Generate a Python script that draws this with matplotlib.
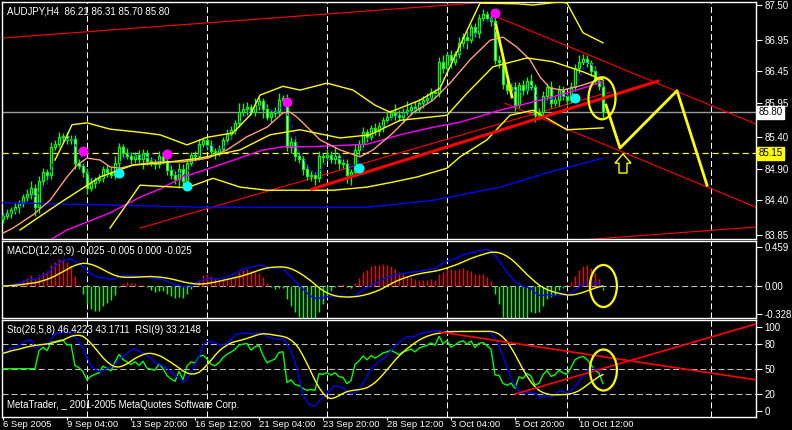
import numpy as np
import pandas as pd
import matplotlib
matplotlib.use('Agg')
import matplotlib.pyplot as plt
from matplotlib.patches import Ellipse, Polygon

plt.rcParams['font.family'] = ['Liberation Sans', 'DejaVu Sans']
plt.rcParams['font.size'] = 7

# ---- AUDJPY H4 candles (bar 0 = 6 Sep 2005 12:00) ----
first_open = 84.10
closes = [
    84.15, 84.20, 84.25, 84.30, 84.35, 84.45, 84.50, 84.60, 84.30, 84.70,
    84.85, 84.80, 85.25, 85.30, 85.40, 85.42, 85.35, 85.38, 85.00, 84.95,
    84.85, 84.60, 84.68, 84.72, 84.75, 84.90, 84.85, 84.80, 85.00, 85.25,
    85.15, 85.10, 85.05, 85.12, 85.05, 85.15, 85.02, 85.00, 84.98, 85.10,
    85.02, 84.88, 84.80, 84.74, 84.90, 84.70, 85.00, 85.12, 85.10, 85.30,
    85.35, 85.28, 85.18, 85.15, 85.22, 85.35, 85.45, 85.52, 85.62, 85.80,
    85.85, 85.88, 85.80, 85.92, 85.98, 85.85, 85.73, 85.78, 85.82, 86.00,
    86.02, 85.25, 85.32, 85.10, 85.05, 84.90, 84.78, 84.80, 84.75, 85.10,
    85.08, 85.12, 85.05, 85.10, 85.00, 84.98, 84.80, 84.85, 85.20, 85.30,
    85.48, 85.40, 85.55, 85.50, 85.58, 85.68, 85.72, 85.78, 85.75, 85.72,
    85.80, 85.83, 85.88, 85.85, 85.95, 86.00, 86.03, 86.12, 86.10, 86.60,
    86.50, 86.70, 86.60, 86.72, 86.90, 87.00, 86.95, 87.15, 87.05, 87.30,
    87.35, 87.30, 87.25, 86.62, 86.60, 86.25, 86.15, 86.20, 85.92, 86.23,
    86.15, 86.30, 86.20, 85.75, 85.80, 86.05, 86.20, 85.95, 86.00, 86.15,
    86.05, 86.00, 86.20, 86.50, 86.60, 86.65, 86.58, 86.45, 86.30, 86.21,
    85.80,
]
# wick lengths above / below the body, in hundredths of a yen
wick_up = [
    5, 6, 5, 8, 6, 5, 8, 10, 6, 8,
    6, 5, 8, 6, 8, 5, 6, 5, 5, 6,
    5, 6, 8, 5, 6, 5, 6, 8, 10, 6,
    5, 8, 6, 5, 8, 6, 5, 6, 5, 8,
    6, 5, 8, 6, 10, 8, 6, 5, 6, 8,
    6, 5, 8, 5, 6, 5, 8, 6, 5, 15,
    10, 8, 5, 10, 6, 5, 8, 5, 6, 10,
    5, 6, 8, 10, 6, 5, 8, 6, 5, 8,
    5, 10, 6, 15, 5, 6, 8, 5, 10, 6,
    8, 6, 5, 8, 6, 5, 10, 6, 15, 8,
    6, 15, 5, 10, 6, 5, 8, 6, 5, 8,
    10, 6, 8, 5, 10, 6, 8, 5, 6, 6,
    8, 6, 5, 6, 8, 5, 10, 6, 8, 5,
    8, 6, 10, 5, 6, 8, 6, 10, 5, 8,
    6, 5, 8, 6, 10, 8, 6, 5, 8, 6,
    10,
]
wick_dn = [
    6, 5, 8, 6, 10, 5, 6, 8, 15, 10,
    5, 8, 6, 5, 6, 8, 5, 6, 10, 6,
    8, 10, 6, 8, 5, 6, 8, 5, 6, 8,
    6, 5, 8, 6, 5, 15, 6, 5, 8, 6,
    5, 8, 6, 8, 15, 10, 6, 5, 8, 6,
    5, 8, 6, 10, 5, 6, 5, 8, 6, 5,
    6, 10, 5, 6, 8, 15, 6, 8, 5, 6,
    8, 6, 10, 8, 5, 10, 6, 8, 10, 6,
    8, 5, 6, 8, 10, 6, 12, 15, 6, 8,
    6, 8, 5, 6, 8, 10, 6, 5, 8, 6,
    10, 5, 8, 6, 5, 8, 6, 5, 8, 6,
    8, 6, 10, 5, 6, 8, 15, 6, 5, 8,
    6, 5, 8, 6, 10, 8, 6, 5, 10, 6,
    8, 6, 5, 10, 8, 6, 5, 8, 6, 10,
    6, 8, 5, 6, 8, 5, 6, 8, 5, 6,
    10,
]

# ---- indicator lines (bar index, price) ----
salmon_x = [0, 2.5, 7.5, 11.75, 16, 18.5, 21, 24.25, 26.75, 29.25, 32.5, 36, 39.25, 45, 51.25, 56, 61, 66,
            70, 71.75, 73.5, 76.75, 79.25, 84.25, 89.25, 92.5, 97.5, 102.5, 107.5, 111.75, 116.75, 121.75,
            125, 128.5, 131.75, 134.25, 136.75, 140, 145, 150]
salmon_y = [83.88, 83.96, 84.17, 84.40, 84.77, 84.96, 85.07, 85.04, 84.93, 84.91, 84.96, 84.99, 85.01, 85.01,
            85.07, 85.20, 85.41, 85.56, 85.79, 85.80, 85.72, 85.52, 85.36, 85.20, 85.09, 85.20, 85.47, 85.79,
            85.99, 86.26, 86.63, 86.94, 86.99, 86.83, 86.63, 86.36, 86.18, 86.15, 86.23, 86.34]
magenta_x = [11.75, 16, 26.75, 34.25, 39.25, 45, 51.75, 60, 65, 70, 76.75, 91, 99.25, 107.5, 114.25,
             124.25, 134.25, 141.75, 150]
magenta_y = [83.77, 83.93, 84.20, 84.45, 84.58, 84.77, 84.91, 85.09, 85.20, 85.25, 85.25, 85.29, 85.44,
             85.56, 85.64, 85.83, 85.99, 86.12, 86.28]
blue_x = [0, 24.25, 49.25, 74.25, 91, 107.5, 124.25, 136.75, 150]
blue_y = [84.36, 84.33, 84.29, 84.29, 84.29, 84.40, 84.61, 84.85, 85.07]
band_up_x = [13, 15.5, 17.25, 21, 26.75, 34.25, 39.25, 46, 51, 57.5, 61.75, 64.25, 70, 74.25, 81, 87.5,
             93, 96.75, 104.25, 109.25, 114.25, 119.25, 128.5, 132.5, 139.25, 141, 145, 150]
band_up_y = [85.04, 85.36, 85.60, 85.63, 85.53, 85.48, 85.44, 85.28, 85.40, 85.47, 85.75, 86.07, 86.21,
             86.15, 86.26, 86.15, 85.91, 85.80, 85.99, 86.18, 86.86, 87.53, 87.52, 87.50, 87.55, 87.53,
             87.06, 86.90]
band_mid_x = [4.25, 14.25, 24.25, 32.5, 39.25, 49.25, 59.25, 66.75, 74.25, 84.25, 91.75, 99.25, 111,
              116, 122.5, 131, 137.5, 145, 150]
band_mid_y = [83.93, 84.36, 84.77, 84.96, 84.99, 85.07, 85.20, 85.44, 85.52, 85.39, 85.44, 85.67, 85.75,
              86.10, 86.52, 86.66, 86.60, 86.44, 86.31]
band_lo_x = [26.75, 34.25, 46, 52.5, 59.25, 66, 74.25, 82.5, 91, 97.5, 103.5, 111, 114.25, 121, 126.75,
             132.5, 141, 150]
band_lo_y = [83.96, 84.64, 84.60, 84.75, 84.61, 84.56, 84.56, 84.56, 84.61, 84.69, 84.77, 84.91, 85.09,
             85.36, 85.75, 85.83, 85.52, 85.55]

# fractal dots
magenta_dots = [(20, 85.18), (41, 85.13), (71, 85.96), (123, 87.37)]
cyan_dots = [(29, 84.83), (46, 84.63), (89, 84.91), (143, 86.02)]

# drawn objects (bar, value) pairs
red_thin_main = [[(-0.25, 86.976), (188.25, 87.862)],
                 [(-0.25, 83.09), (188.25, 83.976)],
                 [(34.25, 83.96), (151.75, 86.12)],
                 [(122.75, 87.33), (188.25, 85.61)],
                 [(125.5, 85.94), (188.25, 84.29)]]
red_thick_main = [(77.25, 84.579), (163.75, 86.293)]
yellow_drop = [(123.25, 87.18), (127.25, 86.04)]
yellow_projection = [(150.75, 85.91), (154.25, 85.23), (168.5, 86.14), (176, 84.64)]
red_stoch = [[(109.25, 94.0), (188.5, 36.9)], [(128, 20.2), (188.25, 103.6)]]

grid_bars = [21, 51, 81, 111, 141, 177]
date_bars = [0, 16, 32, 48, 64, 80, 96, 112, 128, 144]
date_labels = ['6 Sep 2005', '9 Sep 04:00', '13 Sep 20:00', '16 Sep 12:00', '21 Sep 04:00',
               '23 Sep 20:00', '28 Sep 12:00', '3 Oct 04:00', '5 Oct 20:00', '10 Oct 12:00']

# ---- derived series ----
c = pd.Series(closes)
o = pd.Series([first_open] + closes[:-1])
h = np.maximum(o, c) + np.array(wick_up) / 100
l = np.minimum(o, c) - np.array(wick_dn) / 100
x = np.arange(len(c))

ema12 = c.ewm(span=12, adjust=False).mean()
ema26 = c.ewm(span=26, adjust=False).mean()
macd = ema12 - ema26
signal = macd.rolling(9, min_periods=1).mean()
hist = (macd - signal) * 2.5   # histogram drawn at 2.5x, as the indicator shows it

ll = l.rolling(26, min_periods=1).min()
hh = h.rolling(26, min_periods=1).max()
k = 100 * (c - ll).rolling(5, min_periods=1).sum() / (hh - ll).rolling(5, min_periods=1).sum()
d = k.rolling(8, min_periods=1).mean()
delta = c.diff().fillna(0)
gain = delta.clip(lower=0).ewm(alpha=1 / 9, adjust=False).mean()
loss = (-delta.clip(upper=0)).ewm(alpha=1 / 9, adjust=False).mean()
rsi = (100 - 100 / (1 + gain / loss.replace(0, np.nan))).bfill()
fast_ma = c.rolling(4, min_periods=1).mean()

# ---- figure ----
W, H = 792, 430
fig = plt.figure(figsize=(W / 100, H / 100), dpi=100, facecolor='black')


def panel(top, bottom):
    a = fig.add_axes([2 / W, 1 - bottom / H, 754 / W, (bottom - top) / H], facecolor='black')
    for s in a.spines.values():
        s.set_color('white')
        s.set_linewidth(1)
    a.set_xlim(-0.25, 188.25)
    a.yaxis.tick_right()
    a.tick_params(axis='y', colors='white', length=4, width=0.8, pad=2, labelsize=7)
    a.tick_params(axis='x', bottom=False, labelbottom=False)
    for gb in grid_bars:
        a.axvline(gb, color='white', lw=0.75, ls=(0, (5.8, 2.9)), zorder=1)
    return a


ax1 = panel(2, 239)
ax2 = panel(241, 318)
ax3 = panel(320, 417)

# main price panel
ax1.set_ylim(83.786, 87.548)
ax1.set_yticks([87.50, 86.95, 86.45, 85.95, 85.40, 84.90, 84.40, 83.85])
ax1.set_yticklabels(['%.2f' % v for v in ax1.get_yticks()])
ax1.axhline(85.80, color='#9a9a9a', lw=1, zorder=1)
ax1.axhline(85.15, color='#ffff00', lw=0.9, ls=(0, (5, 3)), zorder=1)

for line in red_thin_main:
    ax1.plot([p[0] for p in line], [p[1] for p in line], color='red', lw=0.8, zorder=2)

ax1.vlines(x, l, h, color='#00ff00', lw=0.9, zorder=3)
fills = ['black' if cc >= oo else 'white' for oo, cc in zip(o, c)]
ax1.bar(x, np.abs(c - o), bottom=np.minimum(o, c), width=0.5, color=fills,
        edgecolor='#00ff00', linewidth=0.9, zorder=3)

ax1.plot(blue_x, blue_y, color='#0000ff', lw=1, zorder=4)
ax1.plot(x, fast_ma, color='#2020ff', lw=1, ls=(0, (2, 2.5)), zorder=4)
ax1.plot(magenta_x, magenta_y, color='#ff00ff', lw=1, zorder=4)
ax1.plot(salmon_x, salmon_y, color='#ffa07a', lw=1, zorder=4)
for bx, by in [(band_up_x, band_up_y), (band_mid_x, band_mid_y), (band_lo_x, band_lo_y)]:
    ax1.plot(bx, by, color='#ffff00', lw=1, zorder=4)

ax1.plot([p[0] for p in red_thick_main], [p[1] for p in red_thick_main], color='red', lw=2.2, zorder=5)
ax1.scatter([p[0] for p in magenta_dots], [p[1] for p in magenta_dots], s=38, color='#ff00ff', zorder=6)
ax1.scatter([p[0] for p in cyan_dots], [p[1] for p in cyan_dots], s=38, color='#00ffff', zorder=6)

ax1.plot([p[0] for p in yellow_drop], [p[1] for p in yellow_drop], color='#ffff00', lw=2, zorder=6)
ax1.plot([p[0] for p in yellow_projection], [p[1] for p in yellow_projection], color='#ffff00', lw=2,
         zorder=6)
ax1.add_patch(Ellipse((149.75, 86.02), 6.75, 0.667, fill=False, edgecolor='#ffff00', lw=1.6, zorder=6))
arrow = [(155, 85.135), (157, 84.99), (156, 84.99), (156, 84.833), (154, 84.833), (154, 84.99), (153, 84.99)]
ax1.add_patch(Polygon(arrow, closed=True, fill=False, edgecolor='#ffff00', lw=1, zorder=6))

ax1.text(188.25 + 0.6, 85.80, '85.80', color='black', fontsize=7, va='center', ha='left', clip_on=False,
         bbox=dict(boxstyle='square,pad=0.15', fc='white', ec='white'), zorder=7)
ax1.text(188.25 + 0.6, 85.15, '85.15', color='black', fontsize=7, va='center', ha='left', clip_on=False,
         bbox=dict(boxstyle='square,pad=0.15', fc='#ffff00', ec='#ffff00'), zorder=7)

# MACD panel
ax2.set_ylim(-0.376, 0.529)
ax2.set_yticks([0.459, 0.0, -0.328])
ax2.set_yticklabels(['0.459', '0.00', '-0.328'])
ax2.axhline(0, color='#c0c0c0', lw=0.75, ls=(0, (5.8, 2.9)), zorder=1)
ax2.vlines(x, 0, hist, colors=['red' if v > 0 else '#00ff00' for v in hist], lw=1, zorder=2)
ax2.plot(x, macd, color='#0000ff', lw=1, zorder=3)
ax2.plot(x, signal, color='#ffff00', lw=1, zorder=3)
ax2.add_patch(Ellipse((150.1, 0.0), 6.75, 0.494, fill=False, edgecolor='#ffff00', lw=1.6, zorder=6))

# Stochastic / RSI panel
ax3.set_ylim(-7.1, 108.3)
ax3.set_yticks([100, 80, 50, 20, 0])
ax3.set_yticklabels(['100', '80', '50', '20', '0'])
for lv in (80, 50, 20):
    ax3.axhline(lv, color='#c0c0c0', lw=0.75, ls=(0, (5.8, 2.9)), zorder=1)
ax3.plot(x, rsi, color='#00ff00', lw=1, zorder=3)
ax3.plot(x, k, color='#0000ff', lw=1, zorder=3)
ax3.plot(x, d, color='#ffff00', lw=1, zorder=3)
for line in red_stoch:
    ax3.plot([p[0] for p in line], [p[1] for p in line], color='red', lw=1.2, zorder=4)
ax3.add_patch(Ellipse((150.1, 48.8), 6.75, 48.8, fill=False, edgecolor='#ffff00', lw=1.6, zorder=6))

ax3.tick_params(axis='x', bottom=True, labelbottom=True, colors='white', length=2, width=0.8, pad=0,
                labelsize=6.8)
ax3.set_xticks(date_bars)
ax3.set_xticklabels(date_labels, ha='left')

# titles
fig.text(7 / W, 1 - 11 / H, 'AUDJPY,H4  86.21 86.31 85.70 85.80', color='white', fontsize=7, va='center')
fig.text(7 / W, 1 - 251 / H, 'MACD(12,26,9) -0.025 -0.005 0.000 -0.025', color='white', fontsize=7,
         va='center')
fig.text(7 / W, 1 - 330 / H, 'Sto(26,5,8) 46.4223 43.1711  RSI(9) 33.2148', color='white', fontsize=7,
         va='center')
fig.text(7 / W, 1 - 405 / H, 'MetaTrader, _ 2001-2005 MetaQuotes Software Corp.', color='white',
         fontsize=7, va='center')

fig.savefig('out.png', dpi=100, facecolor='black')
